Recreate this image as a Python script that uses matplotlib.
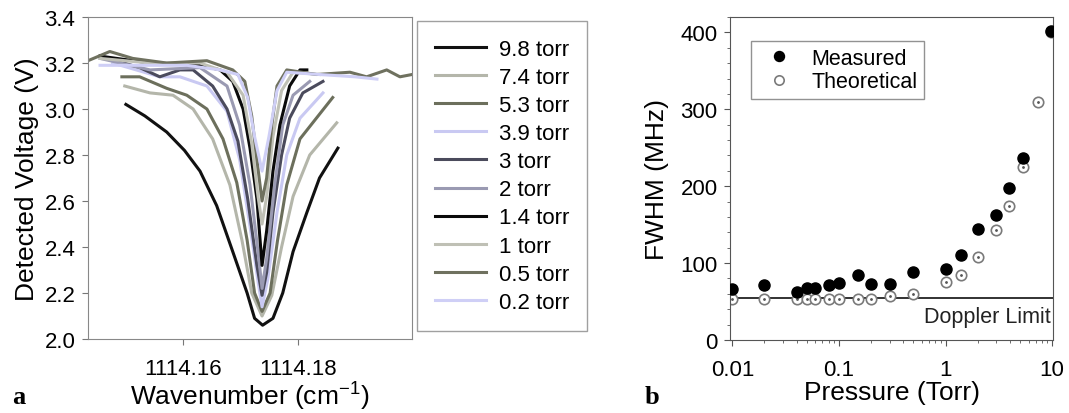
import matplotlib
matplotlib.use("Agg")
import matplotlib.pyplot as plt
from matplotlib.ticker import FixedLocator, MultipleLocator, NullFormatter, FuncFormatter, LogLocator

plt.rcParams['font.family'] = ['Liberation Sans', 'DejaVu Sans']
plt.rcParams['mathtext.fontset'] = 'custom'
plt.rcParams['mathtext.rm'] = 'Liberation Sans'

# ---- panel a: absorption spectra (wavenumber cm-1, detected voltage V) ----
wn_98 = [1114.1501, 1114.1534, 1114.1572, 1114.1603, 1114.1630, 1114.1659, 1114.1687, 1114.1712,
         1114.1725, 1114.1739, 1114.1757, 1114.1774, 1114.1792, 1114.1816, 1114.1838, 1114.1870]
v_98 = [3.02, 2.97, 2.90, 2.82, 2.73, 2.58, 2.38, 2.20, 2.09, 2.06, 2.09, 2.20, 2.38, 2.55, 2.70,
        2.83]

wn_74 = [1114.1499, 1114.1543, 1114.1583, 1114.1618, 1114.1652, 1114.1682, 1114.1703, 1114.1720,
         1114.1738, 1114.1755, 1114.1772, 1114.1792, 1114.1821, 1114.1868]
v_74 = [3.10, 3.07, 3.06, 3.00, 2.87, 2.67, 2.43, 2.20, 2.10, 2.19, 2.40, 2.62, 2.80, 2.94]

wn_53 = [1114.1494, 1114.1525, 1114.1572, 1114.1607, 1114.1642, 1114.1670, 1114.1694, 1114.1712,
         1114.1725, 1114.1738, 1114.1752, 1114.1765, 1114.1781, 1114.1804, 1114.1861]
v_53 = [3.14, 3.14, 3.09, 3.06, 3.00, 2.87, 2.68, 2.43, 2.20, 2.12, 2.20, 2.43, 2.67, 2.87, 3.05]

wn_39 = [1114.1478, 1114.1560, 1114.1595, 1114.1642, 1114.1677, 1114.1699, 1114.1717, 1114.1731,
         1114.1738, 1114.1748, 1114.1764, 1114.1781, 1114.1804, 1114.1844]
v_39 = [3.20, 3.14, 3.14, 3.10, 2.99, 2.78, 2.49, 2.25, 2.14, 2.26, 2.55, 2.80, 2.96, 3.07]

wn_30 = [1114.1456, 1114.1525, 1114.1560, 1114.1595, 1114.1618, 1114.1652, 1114.1677, 1114.1696,
         1114.1713, 1114.1729, 1114.1738, 1114.1746, 1114.1757, 1114.1772, 1114.1786, 1114.1809,
         1114.1844]
v_30 = [3.23, 3.18, 3.14, 3.17, 3.17, 3.10, 3.00, 2.86, 2.61, 2.32, 2.19, 2.29, 2.55, 2.80, 2.96,
        3.07, 3.12]

wn_20 = [1114.1456, 1114.1543, 1114.1630, 1114.1677, 1114.1699, 1114.1717, 1114.1731, 1114.1738,
         1114.1746, 1114.1760, 1114.1774, 1114.1792, 1114.1821]
v_20 = [3.22, 3.17, 3.18, 3.10, 2.93, 2.67, 2.38, 2.22, 2.35, 2.67, 2.93, 3.06, 3.12]

wn_14 = [1114.1456, 1114.1543, 1114.1630, 1114.1665, 1114.1687, 1114.1705, 1114.1717, 1114.1729,
         1114.1738, 1114.1746, 1114.1757, 1114.1769, 1114.1786, 1114.1804, 1114.1816]
v_14 = [3.23, 3.20, 3.19, 3.17, 3.12, 3.00, 2.83, 2.61, 2.32, 2.47, 2.73, 2.93, 3.10, 3.17, 3.17]

wn_10 = [1114.1456, 1114.1543, 1114.1630, 1114.1677, 1114.1705, 1114.1720, 1114.1731, 1114.1738,
         1114.1746, 1114.1757, 1114.1772, 1114.1792, 1114.1838]
v_10 = [3.22, 3.20, 3.20, 3.16, 3.06, 2.85, 2.62, 2.50, 2.62, 2.88, 3.08, 3.16, 3.15]

wn_05 = [1114.1435, 1114.1473, 1114.1513, 1114.1572, 1114.1642, 1114.1687, 1114.1708, 1114.1720,
         1114.1729, 1114.1738, 1114.1746, 1114.1755, 1114.1764, 1114.1781, 1114.1833, 1114.1891,
         1114.1920, 1114.1955, 1114.1978, 1114.1999]
v_05 = [3.21, 3.25, 3.22, 3.20, 3.21, 3.17, 3.12, 2.97, 2.78, 2.60, 2.70, 2.93, 3.10, 3.17, 3.15,
        3.16, 3.14, 3.17, 3.14, 3.15]

wn_02 = [1114.1456, 1114.1525, 1114.1607, 1114.1665, 1114.1696, 1114.1713, 1114.1725, 1114.1738,
         1114.1750, 1114.1764, 1114.1781, 1114.1838, 1114.1900, 1114.1938]
v_02 = [3.19, 3.19, 3.19, 3.17, 3.15, 3.05, 2.88, 2.73, 2.88, 3.08, 3.16, 3.15, 3.14, 3.13]

spec_labels = ['9.8 torr', '7.4 torr', '5.3 torr', '3.9 torr', '3 torr',
               '2 torr', '1.4 torr', '1 torr', '0.5 torr', '0.2 torr']
spec_colors = ['#111111', '#b4b6aa', '#6c6f5c', '#c9c9f2', '#4b4b5c',
               '#9a9ab2', '#0a0a0a', '#bfc0b5', '#6f715f', '#cfcff6']
spectra = [(wn_98, v_98), (wn_74, v_74), (wn_53, v_53), (wn_39, v_39), (wn_30, v_30),
           (wn_20, v_20), (wn_14, v_14), (wn_10, v_10), (wn_05, v_05), (wn_02, v_02)]

# ---- panel b: FWHM vs pressure ----
p_meas = [0.01, 0.02, 0.04, 0.05, 0.06, 0.08, 0.1, 0.15, 0.2, 0.3, 0.5, 1, 1.4, 2, 3, 3.9, 5.3, 9.8]
fwhm_meas = [66, 71, 62, 68, 68, 71, 74, 85, 73, 73, 89, 92, 111, 144, 162, 198, 237, 402]
p_theo = [0.01, 0.02, 0.04, 0.05, 0.06, 0.08, 0.1, 0.15, 0.2, 0.3, 0.5, 1, 1.4, 2, 3, 3.9, 5.3, 7.4, 9.8]
fwhm_theo = [53, 53, 53, 53, 53, 53, 53, 53, 53, 57, 60, 75, 84, 108, 143, 174, 225, 309, 400]
doppler_limit = 54.5

fig = plt.figure(figsize=(10.69, 4.14), dpi=100)

# panel a
ax1 = fig.add_axes([0.0823, 0.1787, 0.3031, 0.7778])
for (w, v), lab, col in zip(spectra, spec_labels, spec_colors):
    ax1.plot(w, v, color=col, lw=2.2, label=lab, solid_joinstyle='round')
ax1.set_xlim(1114.1435, 1114.1999)
ax1.set_ylim(2.0, 3.4)
ax1.xaxis.set_major_locator(FixedLocator([1114.16, 1114.18]))
ax1.xaxis.set_major_formatter(FuncFormatter(lambda x, p: '%.2f' % x))
ax1.yaxis.set_major_locator(MultipleLocator(0.2))
ax1.yaxis.set_major_formatter(FuncFormatter(lambda y, p: '%.1f' % y))
ax1.tick_params(labelsize=16, length=4, color='#777777', pad=5)
ax1.tick_params(axis='x', pad=10)
for s in ax1.spines.values():
    s.set_color('#888888')
ax1.set_ylabel('Detected Voltage (V)', fontsize=19, labelpad=4)
ax1.set_xlabel(r'Wavenumber (cm$^{\mathregular{-1}}$)', fontsize=19, labelpad=-1)

fig.legend(*ax1.get_legend_handles_labels(), loc='upper left',
           bbox_to_anchor=(0.3901, 0.9469), fontsize=16, frameon=True, fancybox=False,
           edgecolor='#888888', handlelength=2.3, handletextpad=0.6, labelspacing=0.32,
           borderpad=0.8, borderaxespad=0)

# panel b
ax2 = fig.add_axes([0.6829, 0.1763, 0.3022, 0.7802])
ax2.set_xscale('log')
ax2.axhline(doppler_limit, color='#222222', lw=1.3, zorder=1)
ax2.plot(p_meas, fwhm_meas, 'o', color='black', ms=8, label='Measured', zorder=3)
ax2.plot(p_theo, fwhm_theo, 'o', mfc='white', mec='#7a7a7a', mew=1.2, ms=7.5,
         label='Theoretical', zorder=2)
ax2.plot(p_theo, fwhm_theo, '.', color='#555555', ms=2, zorder=2)
ax2.set_xlim(0.0095, 10.2)
ax2.set_ylim(0, 420)
ax2.xaxis.set_major_locator(FixedLocator([0.01, 0.1, 1, 10]))
ax2.xaxis.set_major_formatter(FuncFormatter(lambda x, p: '%g' % x))
ax2.xaxis.set_minor_locator(LogLocator(base=10, subs=range(2, 10)))
ax2.xaxis.set_minor_formatter(NullFormatter())
ax2.yaxis.set_major_locator(MultipleLocator(100))
ax2.yaxis.set_minor_locator(MultipleLocator(20))
ax2.tick_params(labelsize=16, length=4, color='#555555', pad=5)
ax2.tick_params(which='minor', length=2.5, color='#555555')
ax2.tick_params(axis='x', pad=10)
for s in ax2.spines.values():
    s.set_color('#555555')
ax2.text(9.6, 31, 'Doppler Limit', ha='right', va='center', fontsize=15.5, color='#222222')
ax2.set_ylabel('FWHM (MHz)', fontsize=19, labelpad=8)
ax2.set_xlabel('Pressure (Torr)', fontsize=19, labelpad=0)
h, l = ax2.get_legend_handles_labels()
ax2.legend(h, l, loc='upper left', bbox_to_anchor=(0.065, 0.925), fontsize=15.5,
           fancybox=False, edgecolor='#777777', handlelength=2.0, handletextpad=0.5,
           borderpad=0.3, labelspacing=0.12, markerscale=0.9, borderaxespad=0)

fig.text(0.011, 0.025, 'a', fontsize=19, fontweight='bold', family='Liberation Serif')
fig.text(0.603, 0.025, 'b', fontsize=19, fontweight='bold', family='Liberation Serif')

fig.savefig('out.png', dpi=100)
